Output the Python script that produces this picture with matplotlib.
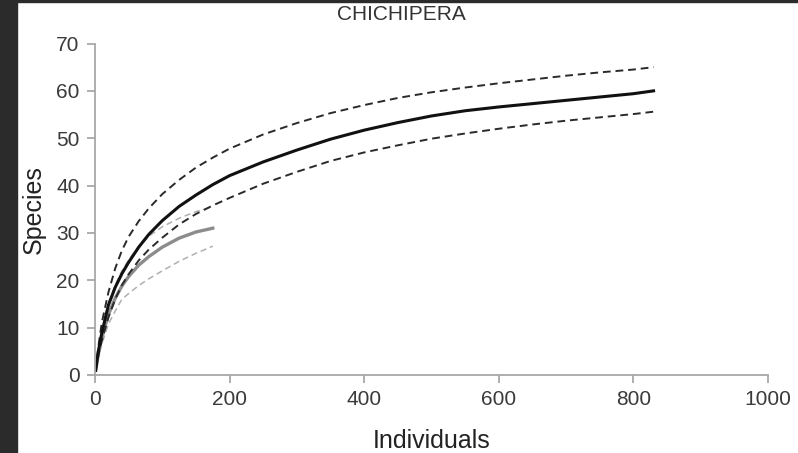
import matplotlib.pyplot as plt
from matplotlib.patches import Rectangle

plt.rcParams['font.family'] = ['Liberation Sans', 'DejaVu Sans']

# black curve: observed + 95% CI (large sample)
big_x = [1, 5, 10, 20, 30, 40, 50, 65, 80, 100, 125, 150, 175, 200, 250, 300,
         350, 400, 450, 500, 550, 600, 650, 700, 750, 800, 830]
big_mean = [1, 5.0, 8.8, 14.8, 18.5, 21.4, 23.8, 27.0, 29.7, 32.6, 35.6, 38.0,
            40.2, 42.1, 45.0, 47.5, 49.8, 51.7, 53.3, 54.7, 55.8, 56.6, 57.3,
            58.0, 58.7, 59.4, 60.0]
big_upper = [1, 6, 11, 17.5, 22.5, 26.3, 29.2, 32.5, 35.2, 38.2, 41.2, 43.8,
             45.9, 47.8, 50.8, 53.2, 55.3, 57.0, 58.5, 59.7, 60.7, 61.6, 62.4,
             63.2, 63.9, 64.5, 65.0]
big_lower = [1, 4.2, 7.2, 12.2, 16, 19, 21.3, 24.2, 26.5, 29.0, 31.8, 34.0,
             35.8, 37.4, 40.4, 42.9, 45.2, 47.0, 48.5, 49.9, 51.0, 52.0, 52.9,
             53.7, 54.4, 55.1, 55.6]

# gray curve: smaller sample
small_x = [1, 5, 10, 20, 30, 40, 50, 65, 80, 100, 125, 150, 175]
small_mean = [1, 4.5, 7.8, 12.8, 16.2, 18.8, 20.8, 23.2, 25.0, 27.0, 28.9, 30.2, 31.0]
small_upper = [1, 5.5, 9.2, 15, 19, 22, 24.3, 27.2, 29.3, 31.3, 33.1, 34.5, 35.5]
small_lower = [1, 3.8, 6.5, 10.8, 13.5, 16.0, 17.2, 18.9, 20.3, 22.0, 24.0, 25.7, 27.2]

fig = plt.figure(figsize=(7.98, 4.53), dpi=100)
ax = fig.add_axes([95 / 798, 1 - 375 / 453, 673 / 798, 331.5 / 453])

dash = (4, 2.5)
ax.plot(small_x, small_upper, color='#b0b0b0', lw=1.1, dashes=dash)
ax.plot(small_x, small_lower, color='#b0b0b0', lw=1.1, dashes=dash)
ax.plot(small_x, small_mean, color='#8c8c8c', lw=2.4)
ax.plot(big_x, big_upper, color='#2a2a2a', lw=1.4, dashes=dash)
ax.plot(big_x, big_lower, color='#2a2a2a', lw=1.4, dashes=dash)
ax.plot(big_x, big_mean, color='#111111', lw=2.2)

ax.set_xlim(0, 1000)
ax.set_ylim(0, 70)
ax.set_xticks(range(0, 1001, 200))
ax.set_yticks(range(0, 71, 10))
for s in ['top', 'right']:
    ax.spines[s].set_visible(False)
for s in ['left', 'bottom']:
    ax.spines[s].set_color('#a8a8a8')
    ax.spines[s].set_linewidth(1.3)
ax.tick_params(colors='#a8a8a8', labelcolor='#3a3a3a', labelsize=15,
               length=6, width=1.3)
ax.tick_params(axis='y', pad=5)
ax.tick_params(axis='x', pad=5)
ax.set_xlabel('Individuals', fontsize=18, color='#222222')
ax.set_ylabel('Species', fontsize=18, color='#222222')
ax.xaxis.set_label_coords(0.5, -0.163)
ax.yaxis.set_label_coords(-0.073, 0.5)

fig.text(401 / 798, 1 - 14 / 453, 'CHICHIPERA', ha='center', va='center',
         fontsize=15, color='#333333')

# dark border of the original screenshot
fig.patches.append(Rectangle((0, 0), 17 / 798, 1, transform=fig.transFigure,
                             color='#2b2b2b', zorder=0))
fig.patches.append(Rectangle((0, 1 - 2 / 453), 1, 2 / 453, transform=fig.transFigure,
                             color='#2b2b2b', zorder=0))

plt.savefig('out.png', dpi=100)
